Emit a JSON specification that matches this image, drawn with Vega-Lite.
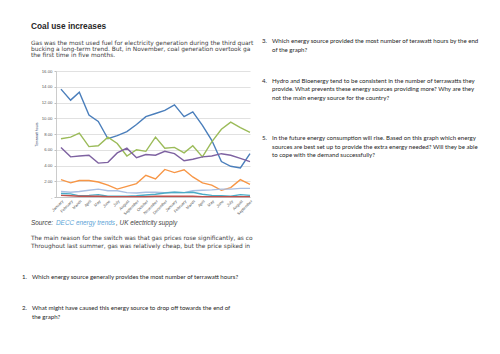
{
  "$schema": "https://vega.github.io/schema/vega-lite/v6.json",
  "background": "white",
  "padding": {"left": 22, "top": 0, "right": 0, "bottom": 0},
  "spacing": 6,
  "config": {"view": {"stroke": null}},
  "hconcat": [
    {
      "vconcat": [
        {
          "width": 200,
          "height": 71,
          "data": {"values": [
            {"line": 0, "indent": 0, "kind": "head", "text": "Coal use increases"},
            {"line": 2.5, "indent": 0, "kind": "para", "text": "Gas was the most used fuel for electricity generation during the third quart"},
            {"line": 3.5, "indent": 0, "kind": "para", "text": "bucking a long-term trend. But, in November, coal generation overtook ga"},
            {"line": 4.5, "indent": 0, "kind": "para", "text": "the first time in five months."}
          ]},
          "encoding": {
            "x": {"field": "indent", "type": "quantitative", "scale": {"domain": [0, 1], "range": [-25, -15], "nice": false, "zero": false}, "axis": null},
            "y": {"field": "line", "type": "quantitative", "scale": {"domain": [-4.286, 6.984], "reverse": true, "nice": false, "zero": false}, "axis": null},
            "text": {"field": "text"}
          },
          "layer": [
            {"transform": [{"filter": "datum.kind === 'head'"}], "mark": {"type": "text", "align": "left", "baseline": "middle", "font": "Liberation Sans", "fontSize": 8.3, "fontWeight": "bold", "color": "#262626"}},
            {"transform": [{"filter": "datum.kind === 'para'"}], "mark": {"type": "text", "align": "left", "baseline": "middle", "font": "DejaVu Sans", "fontSize": 5.9, "color": "#404040"}}
          ]
        },
        {
          "width": 194,
          "height": 126,
          "data": {"values": [
            {"month": "2013-01-01", "source": "Coal", "value": 13.7},
            {"month": "2013-02-01", "source": "Coal", "value": 12.3},
            {"month": "2013-03-01", "source": "Coal", "value": 13.3},
            {"month": "2013-04-01", "source": "Coal", "value": 10.4},
            {"month": "2013-05-01", "source": "Coal", "value": 9.6},
            {"month": "2013-06-01", "source": "Coal", "value": 7.4},
            {"month": "2013-07-01", "source": "Coal", "value": 7.8},
            {"month": "2013-08-01", "source": "Coal", "value": 8.3},
            {"month": "2013-09-01", "source": "Coal", "value": 9.2},
            {"month": "2013-10-01", "source": "Coal", "value": 10.2},
            {"month": "2013-11-01", "source": "Coal", "value": 10.6},
            {"month": "2013-12-01", "source": "Coal", "value": 11.0},
            {"month": "2014-01-01", "source": "Coal", "value": 11.7},
            {"month": "2014-02-01", "source": "Coal", "value": 10.2},
            {"month": "2014-03-01", "source": "Coal", "value": 10.8},
            {"month": "2014-04-01", "source": "Coal", "value": 9.1},
            {"month": "2014-05-01", "source": "Coal", "value": 7.2},
            {"month": "2014-06-01", "source": "Coal", "value": 4.5},
            {"month": "2014-07-01", "source": "Coal", "value": 3.9},
            {"month": "2014-08-01", "source": "Coal", "value": 3.7},
            {"month": "2014-09-01", "source": "Coal", "value": 5.5},
            {"month": "2013-01-01", "source": "Gas", "value": 7.4},
            {"month": "2013-02-01", "source": "Gas", "value": 7.6},
            {"month": "2013-03-01", "source": "Gas", "value": 8.1},
            {"month": "2013-04-01", "source": "Gas", "value": 6.4},
            {"month": "2013-05-01", "source": "Gas", "value": 6.5},
            {"month": "2013-06-01", "source": "Gas", "value": 7.6},
            {"month": "2013-07-01", "source": "Gas", "value": 6.8},
            {"month": "2013-08-01", "source": "Gas", "value": 5.2},
            {"month": "2013-09-01", "source": "Gas", "value": 6.0},
            {"month": "2013-10-01", "source": "Gas", "value": 5.8},
            {"month": "2013-11-01", "source": "Gas", "value": 7.6},
            {"month": "2013-12-01", "source": "Gas", "value": 6.2},
            {"month": "2014-01-01", "source": "Gas", "value": 6.3},
            {"month": "2014-02-01", "source": "Gas", "value": 5.6},
            {"month": "2014-03-01", "source": "Gas", "value": 6.5},
            {"month": "2014-04-01", "source": "Gas", "value": 5.1},
            {"month": "2014-05-01", "source": "Gas", "value": 7.0},
            {"month": "2014-06-01", "source": "Gas", "value": 8.6},
            {"month": "2014-07-01", "source": "Gas", "value": 9.5},
            {"month": "2014-08-01", "source": "Gas", "value": 8.8},
            {"month": "2014-09-01", "source": "Gas", "value": 8.2},
            {"month": "2013-01-01", "source": "Nuclear", "value": 6.3},
            {"month": "2013-02-01", "source": "Nuclear", "value": 5.1},
            {"month": "2013-03-01", "source": "Nuclear", "value": 5.2},
            {"month": "2013-04-01", "source": "Nuclear", "value": 5.3},
            {"month": "2013-05-01", "source": "Nuclear", "value": 4.3},
            {"month": "2013-06-01", "source": "Nuclear", "value": 4.4},
            {"month": "2013-07-01", "source": "Nuclear", "value": 5.6},
            {"month": "2013-08-01", "source": "Nuclear", "value": 6.2},
            {"month": "2013-09-01", "source": "Nuclear", "value": 5.0},
            {"month": "2013-10-01", "source": "Nuclear", "value": 5.4},
            {"month": "2013-11-01", "source": "Nuclear", "value": 5.3},
            {"month": "2013-12-01", "source": "Nuclear", "value": 5.8},
            {"month": "2014-01-01", "source": "Nuclear", "value": 5.5},
            {"month": "2014-02-01", "source": "Nuclear", "value": 4.6},
            {"month": "2014-03-01", "source": "Nuclear", "value": 4.8},
            {"month": "2014-04-01", "source": "Nuclear", "value": 5.1},
            {"month": "2014-05-01", "source": "Nuclear", "value": 5.2},
            {"month": "2014-06-01", "source": "Nuclear", "value": 5.5},
            {"month": "2014-07-01", "source": "Nuclear", "value": 5.3},
            {"month": "2014-08-01", "source": "Nuclear", "value": 4.9},
            {"month": "2014-09-01", "source": "Nuclear", "value": 4.5},
            {"month": "2013-01-01", "source": "Wind", "value": 2.2},
            {"month": "2013-02-01", "source": "Wind", "value": 1.8},
            {"month": "2013-03-01", "source": "Wind", "value": 2.1},
            {"month": "2013-04-01", "source": "Wind", "value": 2.1},
            {"month": "2013-05-01", "source": "Wind", "value": 1.9},
            {"month": "2013-06-01", "source": "Wind", "value": 1.5},
            {"month": "2013-07-01", "source": "Wind", "value": 1.0},
            {"month": "2013-08-01", "source": "Wind", "value": 1.35},
            {"month": "2013-09-01", "source": "Wind", "value": 1.7},
            {"month": "2013-10-01", "source": "Wind", "value": 2.75},
            {"month": "2013-11-01", "source": "Wind", "value": 2.3},
            {"month": "2013-12-01", "source": "Wind", "value": 3.5},
            {"month": "2014-01-01", "source": "Wind", "value": 3.1},
            {"month": "2014-02-01", "source": "Wind", "value": 3.45},
            {"month": "2014-03-01", "source": "Wind", "value": 2.55},
            {"month": "2014-04-01", "source": "Wind", "value": 1.8},
            {"month": "2014-05-01", "source": "Wind", "value": 1.5},
            {"month": "2014-06-01", "source": "Wind", "value": 0.85},
            {"month": "2014-07-01", "source": "Wind", "value": 1.2},
            {"month": "2014-08-01", "source": "Wind", "value": 2.2},
            {"month": "2014-09-01", "source": "Wind", "value": 1.6},
            {"month": "2013-01-01", "source": "Bioenergy", "value": 0.7},
            {"month": "2013-02-01", "source": "Bioenergy", "value": 0.6},
            {"month": "2013-03-01", "source": "Bioenergy", "value": 0.7},
            {"month": "2013-04-01", "source": "Bioenergy", "value": 0.85},
            {"month": "2013-05-01", "source": "Bioenergy", "value": 1.0},
            {"month": "2013-06-01", "source": "Bioenergy", "value": 0.8},
            {"month": "2013-07-01", "source": "Bioenergy", "value": 0.8},
            {"month": "2013-08-01", "source": "Bioenergy", "value": 0.55},
            {"month": "2013-09-01", "source": "Bioenergy", "value": 0.5},
            {"month": "2013-10-01", "source": "Bioenergy", "value": 0.6},
            {"month": "2013-11-01", "source": "Bioenergy", "value": 0.6},
            {"month": "2013-12-01", "source": "Bioenergy", "value": 0.55},
            {"month": "2014-01-01", "source": "Bioenergy", "value": 0.6},
            {"month": "2014-02-01", "source": "Bioenergy", "value": 0.55},
            {"month": "2014-03-01", "source": "Bioenergy", "value": 0.8},
            {"month": "2014-04-01", "source": "Bioenergy", "value": 0.85},
            {"month": "2014-05-01", "source": "Bioenergy", "value": 0.9},
            {"month": "2014-06-01", "source": "Bioenergy", "value": 1.0},
            {"month": "2014-07-01", "source": "Bioenergy", "value": 1.0},
            {"month": "2014-08-01", "source": "Bioenergy", "value": 1.1},
            {"month": "2014-09-01", "source": "Bioenergy", "value": 1.1},
            {"month": "2013-01-01", "source": "Hydro", "value": 0.45},
            {"month": "2013-02-01", "source": "Hydro", "value": 0.4},
            {"month": "2013-03-01", "source": "Hydro", "value": 0.15},
            {"month": "2013-04-01", "source": "Hydro", "value": 0.2},
            {"month": "2013-05-01", "source": "Hydro", "value": 0.3},
            {"month": "2013-06-01", "source": "Hydro", "value": 0.1},
            {"month": "2013-07-01", "source": "Hydro", "value": 0.1},
            {"month": "2013-08-01", "source": "Hydro", "value": 0.1},
            {"month": "2013-09-01", "source": "Hydro", "value": 0.15},
            {"month": "2013-10-01", "source": "Hydro", "value": 0.25},
            {"month": "2013-11-01", "source": "Hydro", "value": 0.35},
            {"month": "2013-12-01", "source": "Hydro", "value": 0.5},
            {"month": "2014-01-01", "source": "Hydro", "value": 0.6},
            {"month": "2014-02-01", "source": "Hydro", "value": 0.55},
            {"month": "2014-03-01", "source": "Hydro", "value": 0.6},
            {"month": "2014-04-01", "source": "Hydro", "value": 0.35},
            {"month": "2014-05-01", "source": "Hydro", "value": 0.2},
            {"month": "2014-06-01", "source": "Hydro", "value": 0.15},
            {"month": "2014-07-01", "source": "Hydro", "value": 0.1},
            {"month": "2014-08-01", "source": "Hydro", "value": 0.3},
            {"month": "2014-09-01", "source": "Hydro", "value": 0.2},
            {"month": "2013-01-01", "source": "Oil and other", "value": 0.2},
            {"month": "2013-02-01", "source": "Oil and other", "value": 0.15},
            {"month": "2013-03-01", "source": "Oil and other", "value": 0.1},
            {"month": "2013-04-01", "source": "Oil and other", "value": 0.1},
            {"month": "2013-05-01", "source": "Oil and other", "value": 0.1},
            {"month": "2013-06-01", "source": "Oil and other", "value": 0.05},
            {"month": "2013-07-01", "source": "Oil and other", "value": 0.05},
            {"month": "2013-08-01", "source": "Oil and other", "value": 0.05},
            {"month": "2013-09-01", "source": "Oil and other", "value": 0.05},
            {"month": "2013-10-01", "source": "Oil and other", "value": 0.05},
            {"month": "2013-11-01", "source": "Oil and other", "value": 0.1},
            {"month": "2013-12-01", "source": "Oil and other", "value": 0.1},
            {"month": "2014-01-01", "source": "Oil and other", "value": 0.1},
            {"month": "2014-02-01", "source": "Oil and other", "value": 0.1},
            {"month": "2014-03-01", "source": "Oil and other", "value": 0.1},
            {"month": "2014-04-01", "source": "Oil and other", "value": 0.05},
            {"month": "2014-05-01", "source": "Oil and other", "value": 0.05},
            {"month": "2014-06-01", "source": "Oil and other", "value": 0.05},
            {"month": "2014-07-01", "source": "Oil and other", "value": 0.05},
            {"month": "2014-08-01", "source": "Oil and other", "value": 0.05},
            {"month": "2014-09-01", "source": "Oil and other", "value": 0.05}
          ]},
          "mark": {"type": "line", "strokeWidth": 1.4},
          "encoding": {
            "x": {
              "field": "month", "type": "temporal",
              "scale": {"type": "utc", "domain": [{"year": 2012, "month": 12, "date": 16, "utc": true}, {"year": 2014, "month": 9, "date": 1, "utc": true}]},
              "axis": {"format": "%B", "tickCount": {"interval": "month", "step": 1}, "labelAngle": -45, "labelFontSize": 4, "labelFont": "Liberation Sans", "labelColor": "#595959", "labelOverlap": false, "labelPadding": 2, "labelBound": false, "grid": false, "ticks": false, "domainColor": "#BFBFBF", "domainWidth": 0.8, "title": null}
            },
            "y": {
              "field": "value", "type": "quantitative",
              "scale": {"domain": [0, 16], "nice": false},
              "axis": {"values": [0, 2, 4, 6, 8, 10, 12, 14, 16], "labelExpr": "datum.value === 0 ? '-' : format(datum.value, '.2f')", "labelFontSize": 4.3, "labelFont": "Liberation Sans", "labelColor": "#595959", "labelPadding": 2, "gridColor": "#D9D9D9", "gridWidth": 0.8, "domainColor": "#BFBFBF", "domainWidth": 0.8, "tickColor": "#BFBFBF", "tickSize": 2, "title": "Terrawatt hours", "titleFont": "Liberation Sans", "titleFontSize": 3.5, "titleFontWeight": "normal", "titleColor": "#1F3864", "titlePadding": 3}
            },
            "color": {
              "field": "source", "type": "nominal",
              "scale": {"domain": ["Coal", "Gas", "Nuclear", "Wind", "Bioenergy", "Hydro", "Oil and other"], "range": ["#4A7EBB", "#9BBB59", "#7E62A1", "#F79646", "#A9BFE3", "#4BACC6", "#C0504D"]},
              "legend": null
            }
          }
        },
        {
          "width": 200,
          "height": 60,
          "data": {"values": [
            {"line": 0, "indent": 0, "kind": "source", "text": "Source:"},
            {"line": 0, "indent": 0, "kind": "link", "text": "DECC energy trends"},
            {"line": 0, "indent": 0, "kind": "rest", "text": ", UK electricity supply"},
            {"line": 2, "indent": 0, "kind": "para", "text": "The main reason for the switch was that gas prices rose significantly, as co"},
            {"line": 3, "indent": 0, "kind": "para", "text": "Throughout last summer, gas was relatively cheap, but the price spiked in"}
          ]},
          "encoding": {
            "x": {"field": "indent", "type": "quantitative", "scale": {"domain": [0, 1], "range": [-25, -15], "nice": false, "zero": false}, "axis": null},
            "y": {"field": "line", "type": "quantitative", "scale": {"domain": [-3.467, 4.533], "reverse": true, "nice": false, "zero": false}, "axis": null},
            "text": {"field": "text"}
          },
          "layer": [
            {"transform": [{"filter": "datum.kind === 'source'"}], "mark": {"type": "text", "align": "left", "baseline": "middle", "font": "Liberation Sans", "fontSize": 6.4, "fontStyle": "italic", "color": "#404040"}},
            {"transform": [{"filter": "datum.kind === 'link'"}], "mark": {"type": "text", "align": "left", "baseline": "middle", "font": "Liberation Sans", "fontSize": 6.4, "fontStyle": "italic", "color": "#5BA4D6", "dx": 25}},
            {"transform": [{"filter": "datum.kind === 'rest'"}], "mark": {"type": "text", "align": "left", "baseline": "middle", "font": "Liberation Sans", "fontSize": 6.4, "fontStyle": "italic", "color": "#404040", "dx": 85}},
            {"transform": [{"filter": "datum.kind === 'para'"}], "mark": {"type": "text", "align": "left", "baseline": "middle", "font": "DejaVu Sans", "fontSize": 5.9, "color": "#404040"}}
          ]
        },
        {
          "width": 200,
          "height": 97,
          "data": {"values": [
            {"line": 0, "indent": 0, "text": "1."},
            {"line": 0, "indent": 1, "text": "Which energy source generally provides the most number of terrawatt hours?"},
            {"line": 3.5, "indent": 0, "text": "2."},
            {"line": 3.5, "indent": 1, "text": "What might have caused this energy source to drop off towards the end of"},
            {"line": 4.5, "indent": 1, "text": "the graph?"}
          ]},
          "mark": {"type": "text", "align": "left", "baseline": "middle", "font": "Lato", "fontSize": 6.1, "color": "#262626"},
          "encoding": {
            "x": {"field": "indent", "type": "quantitative", "scale": {"domain": [0, 1], "range": [-34, -24], "nice": false, "zero": false}, "axis": null},
            "y": {"field": "line", "type": "quantitative", "scale": {"domain": [-2.222, 8.556], "reverse": true, "nice": false, "zero": false}, "axis": null},
            "text": {"field": "text"}
          }
        }
      ],
      "spacing": 0,
      "bounds": "flush"
    },
    {
      "width": 238,
      "height": 354,
      "data": {"values": [
        {"line": 0, "indent": 0, "text": "3."},
        {"line": 0, "indent": 1, "text": "Which energy source provided the most number of terawatt hours by the end"},
        {"line": 1, "indent": 1, "text": "of the graph?"},
        {"line": 4.5, "indent": 0, "text": "4."},
        {"line": 4.5, "indent": 1, "text": "Hydro and Bioenergy tend to be consistent in the number of terrawatts they"},
        {"line": 5.5, "indent": 1, "text": "provide. What prevents these energy sources providing more? Why are they"},
        {"line": 6.5, "indent": 1, "text": "not the main energy source for the country?"},
        {"line": 11, "indent": 0, "text": "5."},
        {"line": 11, "indent": 1, "text": "In the future energy consumption will rise. Based on this graph which energy"},
        {"line": 12, "indent": 1, "text": "sources are best set up to provide the extra energy needed? Will they be able"},
        {"line": 13, "indent": 1, "text": "to cope with the demand successfully?"}
      ]},
      "mark": {"type": "text", "align": "left", "baseline": "middle", "font": "Lato", "fontSize": 6.1, "color": "#262626"},
      "encoding": {
        "x": {"field": "indent", "type": "quantitative", "scale": {"domain": [0, 1], "range": [0, 10], "nice": false, "zero": false}, "axis": null},
        "y": {"field": "line", "type": "quantitative", "scale": {"domain": [-4.659, 35.568], "reverse": true, "nice": false, "zero": false}, "axis": null},
        "text": {"field": "text"}
      }
    }
  ]
}
